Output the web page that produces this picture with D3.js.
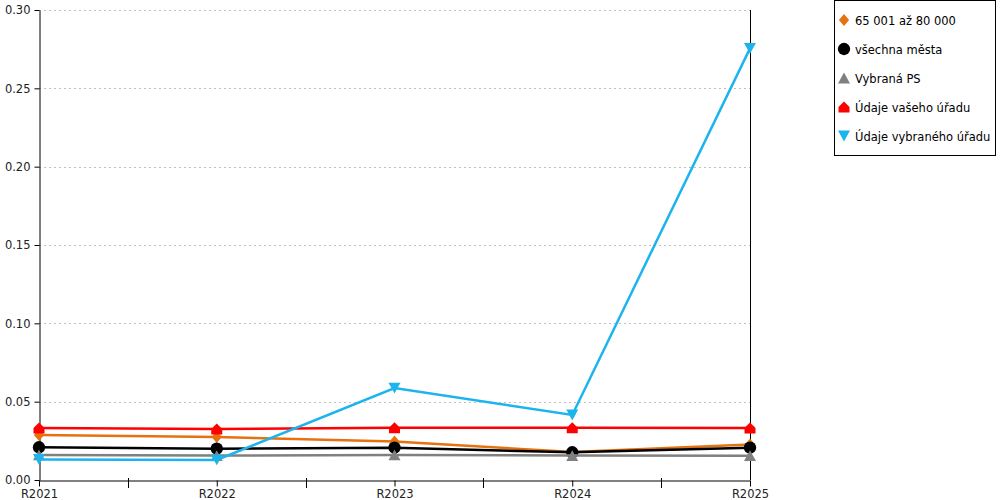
<!DOCTYPE html>
<html>
<head>
<meta charset="utf-8">
<script src="https://cdn.jsdelivr.net/npm/d3@7"></script>
<style>
  body { margin: 0; background: #fff; }
  svg { font-family: "DejaVu Sans", Verdana, sans-serif; }
</style>
</head>
<body>
<svg width="1000" height="500"></svg>
<script>
// data
var categories = ["R2021", "R2022", "R2023", "R2024", "R2025"];
var yTicks = [0, 0.05, 0.10, 0.15, 0.20, 0.25, 0.30];

var mesta65 = [0.0287, 0.0274, 0.0246, 0.0179, 0.0226];
var vsechnaMesta = [0.0209, 0.0200, 0.0206, 0.0177, 0.0206];
var vybranaPS = [0.0160, 0.0156, 0.0160, 0.0156, 0.0155];
var vasUrad = [0.0332, 0.0326, 0.0334, 0.0334, 0.0332];
var vybranyUrad = [0.0131, 0.0128, 0.0587, 0.0415, 0.2755];

var seriesNames = ["65 001 až 80 000", "všechna města", "Vybraná PS", "Údaje vašeho úřadu", "Údaje vybraného úřadu"];
var seriesColors = ["#e5720f", "#000000", "#808080", "#ff0000", "#1cb4ec"];
var seriesValues = [mesta65, vsechnaMesta, vybranaPS, vasUrad, vybranyUrad];

(function() {
  var plotLeft = 39, plotRight = 750, plotTop = 10, plotBottom = 480;
  var fontSize = 11.5;

  var svg = d3.select("svg");

  var x = d3.scalePoint().domain(categories).range([plotLeft, plotRight]);
  var y = d3.scaleLinear().domain([0, 0.3]).range([plotBottom, plotTop]);

  // marker shapes
  var house = { draw: function(ctx, size) {
    var r = Math.sqrt(size) / 2;
    ctx.moveTo(-r, r); ctx.lineTo(r, r); ctx.lineTo(r, 0);
    ctx.lineTo(0, -r); ctx.lineTo(-r, 0); ctx.closePath();
  }};
  var triDown = { draw: function(ctx, size) {
    var r = Math.sqrt(size) / 2;
    ctx.moveTo(-r, -r * 0.9); ctx.lineTo(r, -r * 0.9); ctx.lineTo(0, r * 0.9); ctx.closePath();
  }};
  var triUp = { draw: function(ctx, size) {
    var r = Math.sqrt(size) / 2;
    ctx.moveTo(-r, r * 0.9); ctx.lineTo(r, r * 0.9); ctx.lineTo(0, -r * 0.9); ctx.closePath();
  }};
  var diamond = { draw: function(ctx, size) {
    var r = Math.sqrt(size) / 2;
    ctx.moveTo(0, -r); ctx.lineTo(r * 0.85, 0); ctx.lineTo(0, r); ctx.lineTo(-r * 0.85, 0); ctx.closePath();
  }};
  var seriesSymbols = [diamond, d3.symbolCircle, triUp, house, triDown];
  var seriesSizes = [144, 120, 144, 121, 144];

  // grid
  svg.append("g").selectAll("line")
    .data(yTicks.slice(1))
    .enter().append("line")
    .attr("x1", plotLeft).attr("x2", plotRight)
    .attr("y1", function(d) { return Math.round(y(d)) + 0.5; })
    .attr("y2", function(d) { return Math.round(y(d)) + 0.5; })
    .attr("stroke", "#c0c0c0")
    .attr("stroke-dasharray", "2,3");

  // y axis
  var yAxis = svg.append("g")
    .attr("transform", "translate(" + (plotLeft + 0.5) + ",0)")
    .call(d3.axisLeft(y).tickValues(yTicks).tickFormat(d3.format(".2f")).tickSize(5).tickSizeOuter(0).tickPadding(4));
  yAxis.select(".domain").attr("stroke", "#000");
  yAxis.selectAll("text").attr("font-size", fontSize).attr("fill", "#222").attr("font-family", "DejaVu Sans, Verdana, sans-serif");

  // x axis
  var xAxis = svg.append("g")
    .attr("transform", "translate(0," + (plotBottom + 0.5) + ")")
    .call(d3.axisBottom(x).tickSize(6).tickSizeOuter(0).tickPadding(3));
  xAxis.select(".domain").attr("stroke", "#000");
  xAxis.selectAll("text").attr("font-size", fontSize).attr("fill", "#222").attr("font-family", "DejaVu Sans, Verdana, sans-serif");

  // minor ticks between categories
  var mids = categories.slice(1).map(function(c, i) { return (x(categories[i]) + x(c)) / 2; });
  svg.append("g").selectAll("line")
    .data(mids)
    .enter().append("line")
    .attr("x1", function(d) { return Math.round(d) + 0.5; })
    .attr("x2", function(d) { return Math.round(d) + 0.5; })
    .attr("y1", plotBottom - 2).attr("y2", plotBottom + 8)
    .attr("stroke", "#000");

  // right border line
  svg.append("line")
    .attr("x1", plotRight + 0.5).attr("x2", plotRight + 0.5)
    .attr("y1", plotTop).attr("y2", plotBottom)
    .attr("stroke", "#000");

  // series
  var line = d3.line()
    .x(function(d, i) { return x(categories[i]); })
    .y(function(d) { return y(d); });

  seriesValues.forEach(function(vals, s) {
    var g = svg.append("g");
    g.append("path")
      .datum(vals)
      .attr("d", line)
      .attr("fill", "none")
      .attr("stroke", seriesColors[s])
      .attr("stroke-width", 2.5);
    g.selectAll("path.m")
      .data(vals)
      .enter().append("path")
      .attr("class", "m")
      .attr("d", d3.symbol().type(seriesSymbols[s]).size(seriesSizes[s]))
      .attr("transform", function(d, i) { return "translate(" + x(categories[i]) + "," + y(d) + ")"; })
      .attr("fill", seriesColors[s]);
  });

  // legend
  var legend = svg.append("g");
  legend.append("rect")
    .attr("x", 834.5).attr("y", 0.5)
    .attr("width", 161).attr("height", 155)
    .attr("fill", "#fff").attr("stroke", "#000");

  var items = legend.selectAll("g.item")
    .data(seriesNames)
    .enter().append("g")
    .attr("class", "item")
    .attr("transform", function(d, i) { return "translate(844," + (20 + i * 29) + ")"; });
  items.append("path")
    .attr("d", function(d, i) { return d3.symbol().type(seriesSymbols[i]).size(seriesSizes[i])(); })
    .attr("fill", function(d, i) { return seriesColors[i]; });
  items.append("text")
    .attr("x", 11).attr("y", 4.5)
    .attr("font-size", fontSize)
    .attr("fill", "#000")
    .text(function(d) { return d; });
})();
</script>
</body>
</html>
